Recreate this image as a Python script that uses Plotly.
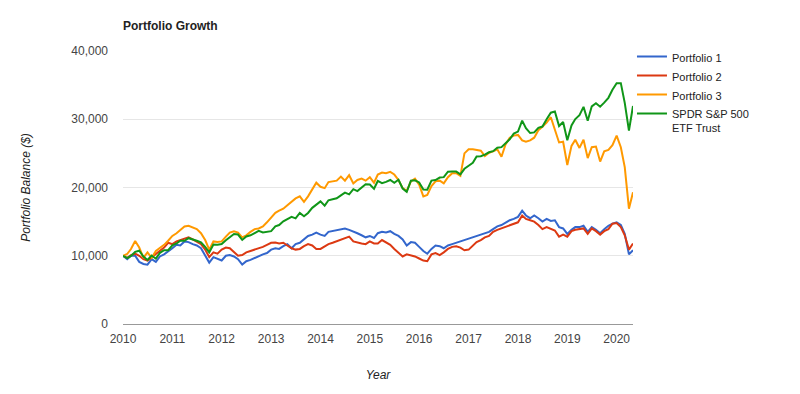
import plotly.graph_objects as go
import pandas as pd

# Monthly dates (start of month), Jan 2010 .. May 2020
start_month = "2010-01-01"
n_months = 125
dates = pd.date_range(start_month, periods=n_months, freq="MS")

series_names = ["Portfolio 1", "Portfolio 2", "Portfolio 3", "SPDR S&P 500<br>ETF Trust"]
series_colors = ["#3366cc", "#dc3912", "#ff9900", "#109618"]

portfolio_1 = [
    10000, 9500, 10000, 10000, 9100, 8800, 8700, 9500, 9100, 9900,
    10200, 10600, 11100, 11600, 11500, 12100, 12000, 11700, 11500, 11100,
    10100, 9000, 9800, 9500, 9300, 10000, 10100, 9900, 9500, 8700,
    9200, 9400, 9700, 10000, 10200, 10400, 10900, 11100, 11000, 11400,
    11700, 11100, 11700, 11900, 12400, 12900, 13100, 13400, 13100, 12900,
    13500, 13600, 13700, 13900, 14000, 13800, 13600, 13300, 13000, 12700,
    12900, 12600, 13300, 13500, 13400, 13600, 13200, 12900, 12400, 11500,
    12000, 11900, 11300, 10700, 10300, 11000, 11500, 11400, 11100, 11500,
    11700, 11900, 12100, 12300, 12500, 12800, 13000, 13100, 13300, 13500,
    13900, 14300, 14500, 14900, 15200, 15400, 15700, 16600, 15900, 15500,
    15900, 15500, 15000, 15400, 15100, 15200, 14200, 14000, 13200, 13800,
    14200, 14200, 14400, 13500, 14200, 13800, 13300, 13900, 14400, 14700,
    14900, 14500, 13200, 10200, 10800,
]

portfolio_2 = [
    10000, 9700, 10100, 10300, 10000, 9500, 9300, 9800, 10200, 10700,
    11200, 11900, 11700, 12100, 12300, 12500, 12700, 12400, 12100, 11700,
    10900, 9800, 10500, 10300, 10900, 11200, 11100, 10500, 10000, 10100,
    10500, 10700, 10900, 11000, 11300, 11600, 11900, 11950, 11800, 11900,
    11500, 11100, 10900, 11000, 11400, 11700, 11500, 11000, 11000, 11400,
    11700, 11900, 12100, 12300, 12600, 12800, 12100, 11900, 11800, 11700,
    12100, 11800, 11800, 12300, 11900, 11600, 11000, 10500, 9900, 10200,
    10100, 9900, 9600, 9300, 9200, 10200, 10400, 10100, 10500, 11000,
    11300, 11400, 11200, 10800, 10900, 11500, 12000, 12300, 12700, 12900,
    13500, 13800, 14000, 14200, 14400, 14700, 14900, 15900, 15400, 15200,
    15000, 14500, 13900, 14200, 13900, 13700, 12800, 13100, 12800, 13600,
    13800, 13900, 14000, 13200, 14000, 13600, 13100, 13600, 13900, 14700,
    14800, 14200, 13000, 10900, 11800,
]

portfolio_3 = [
    10000, 10250, 10980, 12150, 11200, 9700, 10500, 9700, 10700, 11100,
    11600, 12200, 12900, 13300, 13800, 14300, 14400, 14200, 13900, 13300,
    12300, 10900, 12100, 12000, 12100, 12800, 13400, 13600, 13400, 12700,
    13000, 13500, 13900, 14000, 14300, 14900, 15600, 16300, 16600, 16900,
    17400, 17900, 18400, 18700, 17900, 18700, 19700, 20700, 20100, 19900,
    20800, 20900, 21000, 21600, 21000, 21800, 20600, 21100, 21300, 21000,
    21500, 20700, 21900, 22200, 22100, 22300, 21900, 21100, 19900, 19500,
    20900, 21300, 20400, 18700, 18900, 20200, 20900, 21000, 20600, 21500,
    22100, 22100, 21700, 25000, 25600, 25600, 25500, 25400, 24600, 25100,
    25300, 25600, 24500, 26300, 27300, 27600, 27700, 26900, 26700, 26900,
    27300, 28400, 28900, 29500, 30300, 28400, 26600, 26700, 23300, 26100,
    27000, 25800, 27000, 24300, 25900, 26000, 23800, 25300, 25500, 26200,
    27600, 25900, 23000, 16900, 19300,
]

spy = [
    10000, 9640, 9970, 10570, 10740, 9890, 9380, 10030, 9570, 10430,
    10820, 10820, 11540, 11800, 12200, 12200, 12570, 12420, 12200, 11950,
    11300, 10500, 11650, 11620, 11730, 12260, 12780, 13190, 13110, 12320,
    12830, 13000, 13330, 13660, 13410, 13490, 13600, 14300, 14500, 15050,
    15330, 15690, 15480, 16270, 15780, 16270, 17020, 17520, 17970, 17340,
    18130, 18280, 18420, 18850, 19240, 18990, 19750, 19470, 19940, 20480,
    20430, 19820, 20960, 20630, 20830, 21100, 20690, 21130, 19850, 19360,
    20990, 21060, 20740, 19700, 19680, 21010, 21090, 21460, 21520, 22310,
    22330, 22330, 21930, 22740, 23190, 23610, 24550, 24580, 24820, 25160,
    25320, 25830, 25910, 26450, 27060, 27890, 28190, 29800, 28700, 27980,
    28070, 28750, 28930, 29990, 30960, 31140, 29000, 29590, 26920, 29100,
    30030, 30590, 31810, 29790, 31890, 32350, 31840, 32430, 33140, 34330,
    35290, 35290, 32410, 28340, 31940,
]

y_tick_values = [0, 10000, 20000, 30000, 40000]
x_tick_start = "2010-01-01"

font_family = "Liberation Sans, Arial, sans-serif"

fig = go.Figure()
for name, color, values in zip(series_names, series_colors,
                               [portfolio_1, portfolio_2, portfolio_3, spy]):
    fig.add_trace(go.Scatter(
        x=dates, y=values, name=name, mode="lines",
        line=dict(color=color, width=2),
        hoverinfo="skip",
    ))

fig.update_layout(
    width=800, height=394,
    margin=dict(l=123, r=167, t=51, b=70),
    paper_bgcolor="white", plot_bgcolor="white",
    font=dict(family=font_family, size=12, color="#444444"),
    title=dict(
        text="Portfolio Growth",
        font=dict(family=font_family, size=12, color="#222222", weight="bold"),
        x=123 / 800, xanchor="left", xref="container",
        y=1 - 25.5 / 394, yanchor="middle", yref="container",
    ),
    showlegend=True,
    legend=dict(
        x=0.998, xanchor="left", y=1.03, yanchor="top",
        font=dict(family=font_family, size=11, color="#222222"),
        valign="top", bgcolor="rgba(0,0,0,0)", tracegroupgap=0,
    ),
    xaxis=dict(
        type="date",
        range=[dates[0], dates[-1]],
        tick0=x_tick_start, dtick="M12", tickformat="%Y",
        showgrid=False, zeroline=False,
        showline=True, linecolor="#999999", linewidth=1,
        ticks="", ticklabelstandoff=4,
        tickfont=dict(family=font_family, size=12, color="#444444"),
        title=dict(text="Year", standoff=25,
                   font=dict(family=font_family, size=12, color="#222222", style="italic")),
    ),
    yaxis=dict(
        range=[0, 40000],
        tickvals=y_tick_values, tickformat=",",
        showgrid=True, gridcolor="#e6e6e6", gridwidth=1,
        zeroline=False, showline=False,
        ticks="", ticklabelstandoff=14,
        tickfont=dict(family=font_family, size=12, color="#444444"),
        title=dict(text="Portfolio Balance ($)", standoff=38,
                   font=dict(family=font_family, size=12, color="#222222", style="italic")),
    ),
)

fig.write_html(
    "out.html",
    config={"displayModeBar": False, "staticPlot": True},
    post_script="document.body.style.margin='0';",
)
